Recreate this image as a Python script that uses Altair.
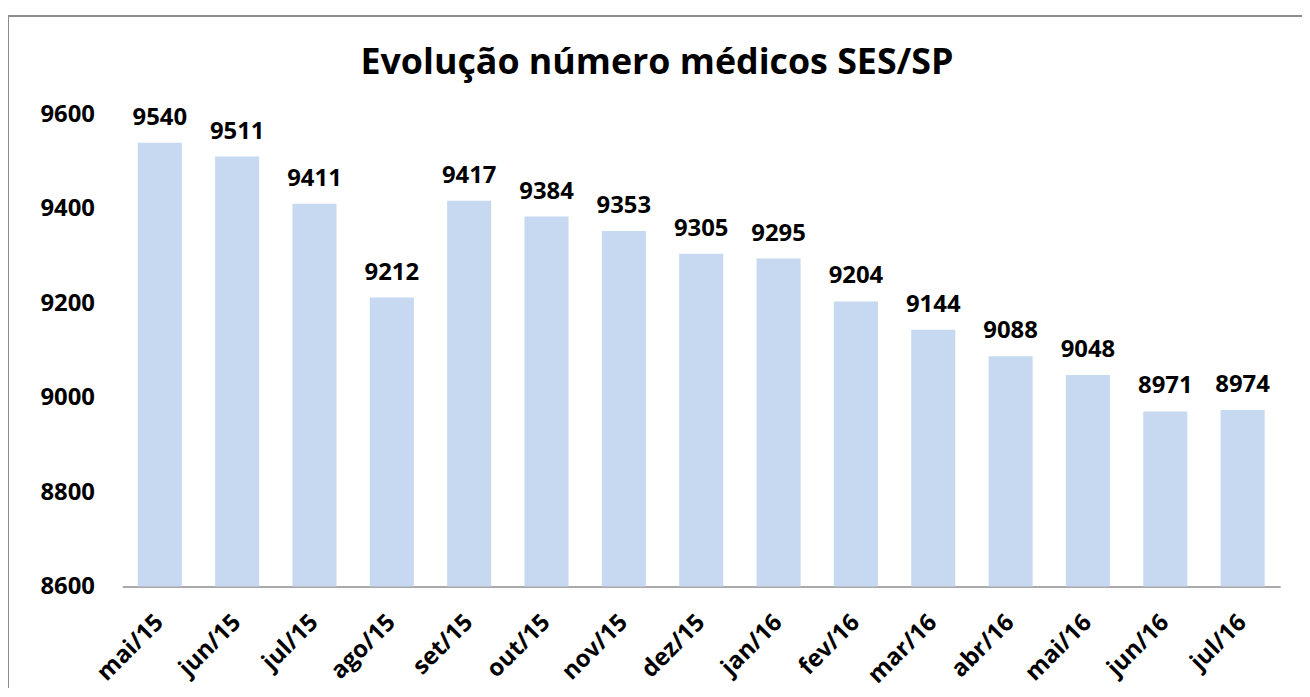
import altair as alt
import pandas as pd

months = ["mai/15", "jun/15", "jul/15", "ago/15", "set/15", "out/15", "nov/15",
          "dez/15", "jan/16", "fev/16", "mar/16", "abr/16", "mai/16", "jun/16", "jul/16"]
medicos = [9540, 9511, 9411, 9212, 9417, 9384, 9353, 9305, 9295, 9204, 9144, 9088, 9048, 8971, 8974]
y_ticks = [8600, 8800, 9000, 9200, 9400, 9600]
title_text = ["Evolução número médicos SES/SP"]

df = pd.DataFrame({"mes": months, "medicos": medicos})
tdf = pd.DataFrame({"t": title_text})

FONT = "Open Sans"
W, H = 1165, 475

x_enc = alt.X("mes:N", sort=months, title=None,
              scale=alt.Scale(paddingInner=0.43, paddingOuter=0.2),
              axis=alt.Axis(labelAngle=-45, labelAlign="right", labelBaseline="middle",
                            labelFont=FONT, labelFontSize=24, labelFontWeight="bold",
                            labelColor="black", labelPadding=32, ticks=False,
                            domainColor="#8c8c8c", domainWidth=1.5))
y_enc = alt.Y("medicos:Q", title=None,
              scale=alt.Scale(domain=[8600, 9600], zero=False, clamp=True),
              axis=alt.Axis(values=y_ticks, grid=False, domain=False, ticks=False,
                            labelFont=FONT, labelFontSize=24, labelFontWeight="bold",
                            labelColor="black", labelPadding=28, format="d"))

bars = alt.Chart(df).mark_bar(color="#C6D9F1").encode(x=x_enc, y=y_enc)

labels = alt.Chart(df).mark_text(
    font=FONT, fontSize=24, fontWeight="bold", color="black", baseline="bottom", dy=-13
).encode(x=alt.X("mes:N", sort=months), y="medicos:Q", text=alt.Text("medicos:Q", format="d"))

frame = alt.Chart(tdf).mark_rect(fill=None, stroke="#8c8c8c", strokeWidth=2).encode(
    x=alt.value(-115), x2=alt.value(W + 80), y=alt.value(-99), y2=alt.value(H + 140)
)

title = alt.Chart(tdf).mark_text(
    font=FONT, fontSize=36, fontWeight="bold", color="black", align="center", baseline="middle"
).encode(x=alt.value(538), y=alt.value(-52), text="t:N")

chart = alt.layer(frame, bars, labels, title).properties(
    width=W, height=H,
    background="white",
    autosize=alt.AutoSizeParams(type="none"),
    padding={"left": 115, "top": 105, "right": 22, "bottom": 100},
).configure_view(strokeWidth=0, stroke="transparent")

chart.save("out.html", embed_options={"renderer": "svg", "actions": False})
